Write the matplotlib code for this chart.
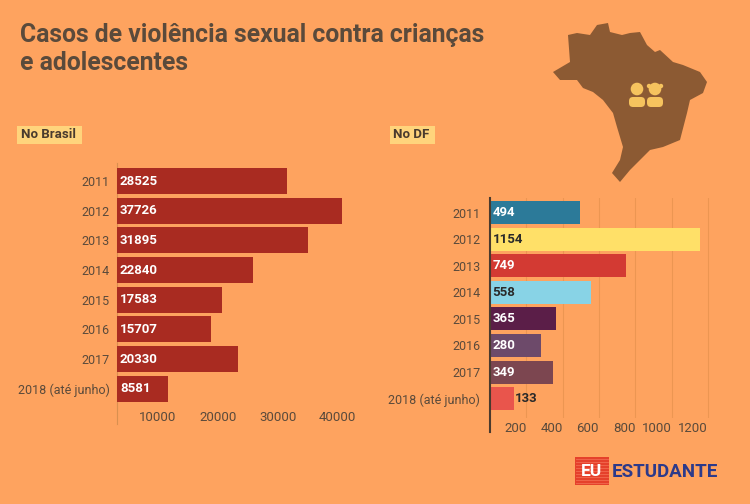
import numpy as np
import matplotlib
matplotlib.use("Agg")
import matplotlib.pyplot as plt
from matplotlib.patches import Polygon, Circle, FancyBboxPatch, Rectangle
from matplotlib.transforms import ScaledTranslation

plt.rcParams["font.family"] = ["Roboto", "DejaVu Sans"]

# data
years = ["2011", "2012", "2013", "2014", "2015", "2016", "2017", "2018 (até junho)"]
brasil = [28525, 37726, 31895, 22840, 17583, 15707, 20330, 8581]
df = [494, 1154, 749, 558, 365, 280, 349, 133]
brasil_ticks = [10000, 20000, 30000, 40000]
df_ticks = [200, 400, 600, 800, 1000, 1200]

bg = "#FEA35F"
txt = "#5A4A3B"
brasil_color = "#A92B21"
df_colors = ["#2C7A99", "#FFE068", "#D33A33", "#88D3E6", "#5B1E48", "#6D4A6A", "#7C4650", "#E9554C"]
df_text = ["white", "#2a2a2a", "white", "#2a2a2a", "white", "white", "white", "#2a2a2a"]

W, H = 750, 504
fig = plt.figure(figsize=(W / 100, H / 100), dpi=100, facecolor=bg)


def px_axes(l, t, r, b):
    return fig.add_axes([l / W, 1 - b / H, (r - l) / W, (b - t) / H])


# decoration layer
deco = fig.add_axes([0, 0, 1, 1])
deco.set_xlim(0, W)
deco.set_ylim(H, 0)
deco.axis("off")
deco.patch.set_alpha(0)

deco.text(20, 49, "Casos de violência sexual contra crianças\ne adolescentes", fontsize=17.8,
          fontweight="bold", color=txt, va="center", ha="left", linespacing=1.2)

deco.add_patch(Rectangle((17, 126), 65, 18, color="#FFD47C", lw=0))
deco.text(21, 135, "No Brasil", fontsize=9.5, fontweight="bold", color="#4A3B2E", va="center")
deco.add_patch(Rectangle((390, 126), 45, 18, color="#FFD47C", lw=0))
deco.text(393, 135, "No DF", fontsize=9.5, fontweight="bold", color="#4A3B2E", va="center")

# map of Brazil (rough outline)
brazil_outline = [(553, 72), (570, 62), (568, 35), (577, 33), (590, 35), (597, 25), (608, 23),
                  (610, 32), (622, 35), (630, 33), (640, 32), (647, 45), (655, 52), (660, 50),
                  (673, 62), (683, 65), (700, 72), (707, 82), (703, 93), (690, 100), (687, 113),
                  (680, 140), (663, 147), (650, 150), (640, 160), (630, 170), (620, 182),
                  (612, 173), (620, 160), (623, 147), (617, 127), (613, 113), (603, 100),
                  (593, 92), (583, 88), (577, 80), (560, 80)]
deco.add_patch(Polygon(brazil_outline, closed=True, color="#8C5A33", lw=0, joinstyle="round"))
kid = "#F6C35E"
deco.add_patch(Circle((637, 89), 6.3, color=kid, lw=0))
deco.add_patch(FancyBboxPatch((629, 97), 16, 10, boxstyle="round,pad=0,rounding_size=4", color=kid, lw=0))
deco.add_patch(Circle((655, 89), 6.3, color=kid, lw=0))
deco.add_patch(Circle((649, 86), 2.2, color=kid, lw=0))
deco.add_patch(Circle((661, 86), 2.2, color=kid, lw=0))
deco.add_patch(FancyBboxPatch((647, 97), 16, 10, boxstyle="round,pad=0,rounding_size=4", color=kid, lw=0))

# logo
deco.add_patch(Rectangle((575, 457), 34, 28, color="#E5412B", lw=0))
for yy in range(459, 485, 3):
    deco.plot([576, 608], [yy, yy], color="#F26A50", lw=0.6)
deco.text(592, 472, "EU", fontsize=12.5, fontweight="bold", color="white", ha="center", va="center")
deco.text(612, 472, "ESTUDANTE", fontsize=13.5, fontweight="bold", color="#2C3A8A", ha="left", va="center")

# left chart: Brasil
ax1 = px_axes(117, 165, 362, 405)
ypos = np.arange(len(years))
ax1.barh(ypos, brasil, height=0.875, color=brasil_color)
ax1.set_xlim(0, 41000)
ax1.set_ylim(7.55, -0.54)
ax1.set_yticks(ypos)
ax1.set_yticklabels(years, fontsize=9, color=txt)
ax1.set_xticks(brasil_ticks)
ax1.set_xticklabels([str(v) for v in brasil_ticks], fontsize=9.5, color=txt, ha="right")
for lab in ax1.get_xticklabels():
    lab.set_transform(lab.get_transform() + ScaledTranslation(-5 / 100, 0, fig.dpi_scale_trans))
ax1.tick_params(length=0, pad=4)
ax1.tick_params(axis="y", pad=5)
for s in ax1.spines.values():
    s.set_visible(False)
ax1.plot([0, 0], [-0.08, 1.01], transform=ax1.get_xaxis_transform(), color="#D9904F", lw=0.8, clip_on=False, zorder=0)
ax1.patch.set_alpha(0)
for i, v in enumerate(brasil):
    ax1.text(500, i, str(v), color="white", fontsize=9.5, fontweight="bold", va="center", ha="left")

# right chart: DF
ax2 = px_axes(490, 198, 717, 418)
ypos2 = np.arange(len(years))
ax2.barh(ypos2, df, height=0.866, color=df_colors, zorder=3)
ax2.set_xlim(0, 1250)
ax2.set_ylim(7.73, -0.546)
ax2.set_yticks(ypos2)
ax2.set_yticklabels(years, fontsize=9, color=txt)
ax2.set_xticks(df_ticks)
ax2.set_xticklabels([str(v) for v in df_ticks], fontsize=9.5, color=txt, ha="right")
for lab in ax2.get_xticklabels():
    lab.set_transform(lab.get_transform() + ScaledTranslation(-4 / 100, 0, fig.dpi_scale_trans))
ax2.tick_params(length=0, pad=3)
ax2.tick_params(axis="y", pad=7)
ax2.grid(axis="x", color="#EC9652", lw=0.8, zorder=0)
for s in ax2.spines.values():
    s.set_visible(False)
ax2.plot([0, 0], [-0.065, 1.0], transform=ax2.get_xaxis_transform(), color="#4A3A2E", lw=1.5, clip_on=False, zorder=4)
ax2.patch.set_alpha(0)
for i, v in enumerate(df):
    if v < 200:
        ax2.text(v + 5, i, str(v), color=df_text[i], fontsize=9.5, fontweight="bold", va="center", ha="left", zorder=5)
    else:
        ax2.text(14, i, str(v), color=df_text[i], fontsize=9.5, fontweight="bold", va="center", ha="left", zorder=5)

fig.savefig("out.png", dpi=100, facecolor=bg)
